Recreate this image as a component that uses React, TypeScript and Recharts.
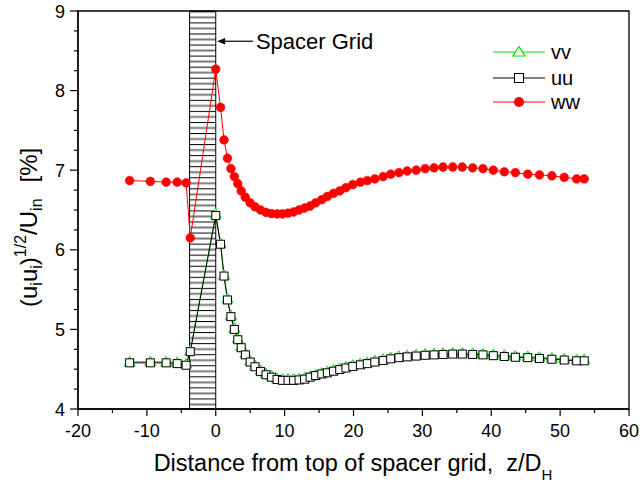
import React from 'react';
import { ComposedChart, Line, XAxis, YAxis, ReferenceArea, ReferenceLine } from 'recharts';

// axial positions z/D_H (before grid, then downstream of grid top)
const zPos = [
  -12.5, -9.5, -7.2, -5.6, -4.3, -3.7,
  0, 0.7, 1.2, 1.7, 2.2, 2.7, 3.2, 3.7, 4.3, 5.0,
  5.7, 6.5, 7.3, 8.1, 8.9, 9.7, 10.5, 11.3, 12.1, 12.9,
  13.7, 14.5, 15.4, 16.2, 17.1, 18.0, 18.9, 19.9, 21.0, 22.0,
  23.1, 24.3, 25.4, 26.6, 27.8, 29.1, 30.4, 31.7, 33.0, 34.4,
  35.8, 37.3, 38.8, 40.3, 41.9, 43.5, 45.3, 47.0, 48.8, 50.6,
  52.4, 53.5,
];

const vvVals = [
  4.59, 4.595, 4.59, 4.585, 4.565, 4.73,
  6.45, 6.08, 5.68, 5.385, 5.175, 5.015, 4.885, 4.785, 4.695, 4.605,
  4.545, 4.485, 4.445, 4.415, 4.385, 4.375, 4.375, 4.375, 4.38, 4.39,
  4.41, 4.43, 4.45, 4.47, 4.49, 4.51, 4.53, 4.55, 4.57, 4.585,
  4.605, 4.625, 4.645, 4.66, 4.67, 4.68, 4.69, 4.695, 4.7, 4.705,
  4.705, 4.7, 4.695, 4.685, 4.675, 4.665, 4.66, 4.65, 4.64, 4.63,
  4.62, 4.62,
];

const uuVals = [
  4.58, 4.58, 4.58, 4.57, 4.55, 4.72,
  6.43, 6.07, 5.67, 5.37, 5.16, 5.0, 4.87, 4.77, 4.68, 4.59,
  4.53, 4.47, 4.43, 4.4, 4.37, 4.36, 4.36, 4.36, 4.365, 4.375,
  4.4, 4.42, 4.44, 4.455, 4.475, 4.495, 4.515, 4.535, 4.555, 4.57,
  4.59, 4.61, 4.63, 4.645, 4.655, 4.665, 4.675, 4.68, 4.685, 4.69,
  4.69, 4.685, 4.68, 4.67, 4.66, 4.65, 4.645, 4.635, 4.625, 4.615,
  4.605, 4.605,
];

const wwVals = [
  6.87, 6.86, 6.85, 6.85, 6.84, 6.15,
  8.27, 7.79, 7.38, 7.15, 7.02, 6.92, 6.83, 6.74, 6.66, 6.59,
  6.54, 6.5, 6.47, 6.455, 6.45, 6.45, 6.46, 6.475, 6.5, 6.525,
  6.55, 6.59, 6.63, 6.67, 6.71, 6.74, 6.78, 6.82, 6.85, 6.87,
  6.89, 6.92, 6.95, 6.97, 6.99, 7.0, 7.02, 7.03, 7.04, 7.04,
  7.04, 7.03, 7.02, 7.0, 6.98, 6.97, 6.95, 6.94, 6.93, 6.91,
  6.89, 6.89,
];

const seriesNames = ['vv', 'uu', 'ww'];
const xTicks = [-20, -15, -10, -5, 0, 5, 10, 15, 20, 25, 30, 35, 40, 45, 50, 55, 60];
const yTicks = [4, 4.25, 4.5, 4.75, 5, 5.25, 5.5, 5.75, 6, 6.25, 6.5, 6.75, 7, 7.25, 7.5, 7.75, 8, 8.25, 8.5, 8.75, 9];
const gridStart = -3.8;
const gridEnd = 0;

const GREEN = '#00dd00';
const FONT = 'Arial, "Liberation Sans", sans-serif';

const rows = zPos.map((z, i) => ({ z, vv: vvVals[i], uu: uuVals[i], ww: wwVals[i] }));

const XTick = (props: any) => {
  const { x, y, payload } = props;
  const major = payload.value % 10 === 0;
  return (
    <g>
      <line x1={x} x2={x} y1={y} y2={y + (major ? 7 : 4)} stroke="#000" strokeWidth={1.2} />
      {major && (
        <text x={x} y={y + 28} textAnchor="middle" fontSize={18} fontFamily={FONT} fill="#000">
          {payload.value}
        </text>
      )}
    </g>
  );
};

const YTick = (props: any) => {
  const { x, y, payload } = props;
  const major = Number.isInteger(payload.value);
  return (
    <g>
      <line x1={x} x2={x - (major ? 8 : 4)} y1={y} y2={y} stroke="#000" strokeWidth={1.2} />
      {major && (
        <text x={x - 13} y={y + 6.5} textAnchor="end" fontSize={18} fontFamily={FONT} fill="#000">
          {payload.value}
        </text>
      )}
    </g>
  );
};

const triangleDot = (props: any) => {
  const { cx, cy, index } = props;
  return (
    <polygon
      key={`t-${index}`}
      points={`${cx},${cy - 5.5} ${cx - 5.5},${cy + 4} ${cx + 5.5},${cy + 4}`}
      fill="#fff"
      stroke={GREEN}
      strokeWidth={1}
    />
  );
};

const squareDot = (props: any) => {
  const { cx, cy, index } = props;
  return <rect key={`s-${index}`} x={cx - 4} y={cy - 4} width={8} height={8} fill="#fff" stroke="#000" strokeWidth={1} />;
};

const circleDot = (props: any) => {
  const { cx, cy, index } = props;
  return <circle key={`c-${index}`} cx={cx} cy={cy} r={4.4} fill="#ff0000" stroke="#ff0000" strokeWidth={0.5} />;
};

const arrowShape = (props: any) => {
  const { x1, y1, x2, y2 } = props;
  return (
    <g>
      <line x1={x1} y1={y1} x2={x2 + 7} y2={y2} stroke="#000" strokeWidth={1.2} />
      <polygon points={`${x2},${y2} ${x2 + 8},${y2 - 3.3} ${x2 + 8},${y2 + 3.3}`} fill="#000" />
      <text x={x1 + 3} y={y1 + 7.5} fontSize={22} fontFamily={FONT} fill="#000">
        Spacer Grid
      </text>
    </g>
  );
};

const Legend = () => {
  const items = [
    { y: 52, sym: (cx: number, cy: number) => <polygon points={`${cx},${cy - 5.5} ${cx - 6},${cy + 4} ${cx + 6},${cy + 4}`} fill="#fff" stroke={GREEN} strokeWidth={1.2} />, color: GREEN },
    { y: 78, sym: (cx: number, cy: number) => <rect x={cx - 4.5} y={cy - 4.5} width={9} height={9} fill="#fff" stroke="#000" />, color: '#000' },
    { y: 102, sym: (cx: number, cy: number) => <circle cx={cx} cy={cy} r={5} fill="#ff0000" />, color: '#ff0000' },
  ];
  return (
    <g>
      {items.map((it, i) => (
        <g key={seriesNames[i]}>
          <line x1={493} x2={545} y1={it.y} y2={it.y} stroke={it.color} strokeWidth={1} />
          {it.sym(519, it.y)}
          <text x={551} y={it.y + 7} fontSize={20} fontFamily={FONT} fill="#000">
            {seriesNames[i]}
          </text>
        </g>
      ))}
    </g>
  );
};

export default function App() {
  return (
    <div style={{ position: 'absolute', left: 0, top: 0, width: 643, height: 484, background: '#fff' }}>
      <svg width={0} height={0} style={{ position: 'absolute' }}>
        <defs>
          <pattern id="hatch" patternUnits="userSpaceOnUse" x={0} y={0.3} width={10} height={11.06}>
            <rect x={0} y={0} width={10} height={1} fill="#000" />
            <rect x={0} y={5} width={10} height={2} fill="#7a7a7a" />
          </pattern>
        </defs>
      </svg>
      <ComposedChart width={643} height={484} data={rows} margin={{ top: 11, right: 14, bottom: 35, left: 0 }}>
        <XAxis
          dataKey="z"
          type="number"
          domain={[-20, 60]}
          ticks={xTicks}
          interval={0}
          tickSize={0}
          tickMargin={0}
          tick={<XTick />}
          height={40}
          axisLine={{ stroke: '#000', strokeWidth: 1.3 }}
          tickLine={false}
        />
        <YAxis
          type="number"
          domain={[4, 9]}
          ticks={yTicks}
          interval={0}
          tickSize={0}
          tickMargin={0}
          tick={<YTick />}
          width={78}
          axisLine={{ stroke: '#000', strokeWidth: 1.3 }}
          tickLine={false}
        />
        <ReferenceArea x1={gridStart} x2={gridEnd} y1={4} y2={9} fill="url(#hatch)" fillOpacity={1} stroke="#000" strokeWidth={1} />
        <Line dataKey="vv" stroke={GREEN} strokeWidth={1} dot={triangleDot} activeDot={false} isAnimationActive={false} />
        <Line dataKey="uu" stroke="#000" strokeWidth={1} dot={squareDot} activeDot={false} isAnimationActive={false} />
        <Line dataKey="ww" stroke="#ff0000" strokeWidth={1} dot={circleDot} activeDot={false} isAnimationActive={false} />
        <ReferenceLine segment={[{ x: 5.4, y: 8.62 }, { x: 0.2, y: 8.62 }]} shape={arrowShape} />
        <ReferenceArea x1={-20} x2={60} y1={4} y2={9} fill="none" stroke="#000" strokeWidth={1.3} />
      </ComposedChart>
      <svg width={643} height={484} style={{ position: 'absolute', left: 0, top: 0, pointerEvents: 'none' }}>
        <Legend />
        <text x={353} y={471} textAnchor="middle" fontSize={23.5} fontFamily={FONT} fill="#000" style={{ whiteSpace: 'pre' }}>
          Distance from top of spacer grid,  z/D
          <tspan fontSize={15} dy={9}>H</tspan>
        </text>
        <text x={37} y={307} transform="rotate(-90, 37, 307)" fontSize={24} fontFamily={FONT} fill="#000">
          (u
          <tspan fontSize={16} dy={5}>i</tspan>
          <tspan dy={-5}>u</tspan>
          <tspan fontSize={16} dy={5}>i</tspan>
          <tspan dy={-5}>)</tspan>
          <tspan fontSize={16} dy={-11}>1/2</tspan>
          <tspan dy={11}>/U</tspan>
          <tspan fontSize={16} dy={5}>in</tspan>
          <tspan dy={-5} dx={16}>[%]</tspan>
        </text>
      </svg>
    </div>
  );
}
